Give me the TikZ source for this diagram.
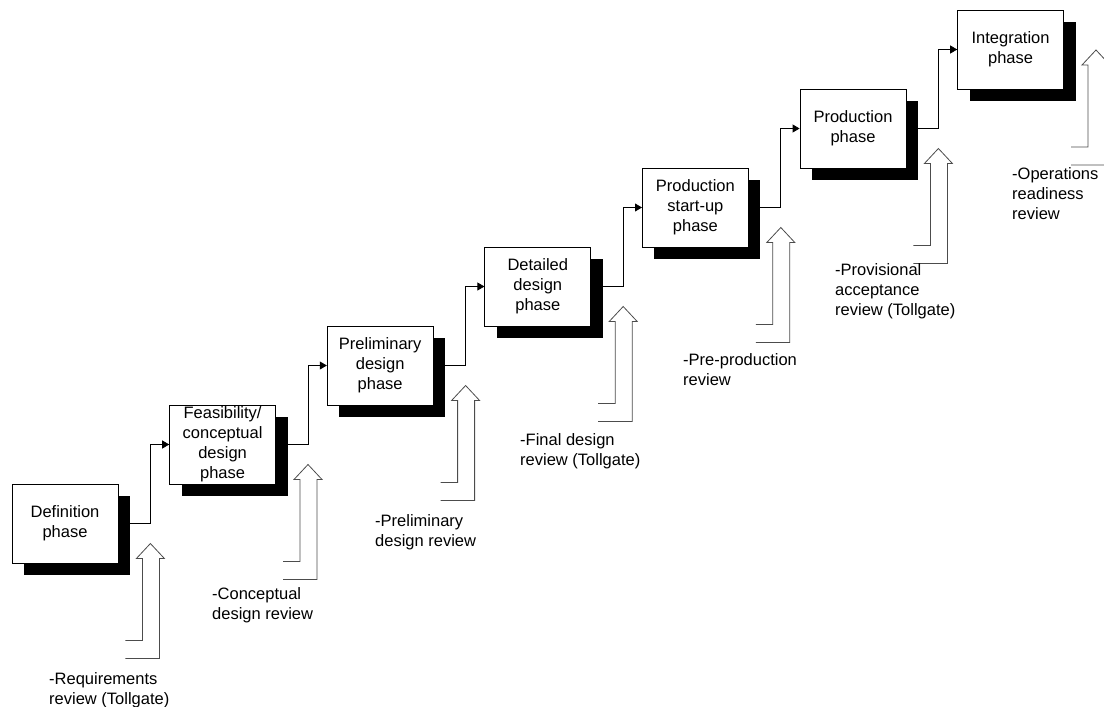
\documentclass[tikz,border=0pt]{standalone}
\usepackage{fontspec}
\setmainfont{Liberation Sans}
\usetikzlibrary{arrows.meta, calc, shadows}

\begin{document}
\begin{tikzpicture}[x=1pt, y=-1pt, >={Triangle[length=7pt, width=8pt]},
        phase/.style={rectangle, draw=black, line width=0.8pt, fill=white,
            minimum width=106pt, minimum height=79pt, inner sep=0pt, align=center,
            font=\fontsize{16.5}{20}\selectfont,
            general shadow={fill=black, shadow xshift=12pt, shadow yshift=-12pt}},
        flow/.style={->, line width=0.8pt, black},
        note/.style={anchor=north west, inner sep=0pt, align=left, font=\fontsize{16.5}{20}\selectfont},
        review arrow/.pic={
            \draw [line width=0.8pt, black!70] (-25,97) -- ++(17,0) -- ++(0,-82) -- ++(-6,0)
                -- (0,0) -- (14,15) -- ++(-5,0) -- ++(0,100) -- ++(-34,0);
        }]
        \useasboundingbox (0,0) rectangle (1104,707);

        % phases
        \node (def)   [phase] at (65,523.5)    {Definition\\phase};
        \node (feas)  [phase] at (222.6,444.5) {Feasibility/\\conceptual\\design\\phase};
        \node (prel)  [phase] at (380.2,365.5) {Preliminary\\design\\phase};
        \node (det)   [phase] at (537.8,286.5) {Detailed\\design\\phase};
        \node (start) [phase] at (695.4,207.5) {Production\\start-up\\phase};
        \node (prod)  [phase] at (853,128.5)   {Production\\phase};
        \node (integ) [phase] at (1010.6,49.5) {Integration\\phase};

        \draw [flow] (def.east) -- ++(32,0) |- (feas.west);
        \draw [flow] (feas.east) -- ++(32,0) |- (prel.west);
        \draw [flow] (prel.east) -- ++(32,0) |- (det.west);
        \draw [flow] (det.east) -- ++(32,0) |- (start.west);
        \draw [flow] (start.east) -- ++(32,0) |- (prod.west);
        \draw [flow] (prod.east) -- ++(32,0) |- (integ.west);

        % reviews
        \coordinate (t1) at ($(def.east)+(32,20)$);
        \coordinate (t2) at ($(feas.east)+(32,20)$);
        \coordinate (t3) at ($(prel.east)+(32,20)$);
        \coordinate (t4) at ($(det.east)+(32,20)$);
        \coordinate (t5) at ($(start.east)+(32,20)$);
        \coordinate (t6) at ($(prod.east)+(32,20)$);
        \coordinate (t7) at ($(integ.east)+(32,0.5)$);
        \pic at (t1) {review arrow};
        \pic at (t2) {review arrow};
        \pic at (t3) {review arrow};
        \pic at (t4) {review arrow};
        \pic at (t5) {review arrow};
        \pic at (t6) {review arrow};
        \pic at (t7) {review arrow};

        \node (r1) [note] at (49,672)   {-Requirements\\review (Tollgate)};
        \node (r2) [note] at (212,587)  {-Conceptual\\design review};
        \node (r3) [note] at (375,514)  {-Preliminary\\design review};
        \node (r4) [note] at (520,433)  {-Final design\\review (Tollgate)};
        \node (r5) [note] at (683,353)  {-Pre-production\\review};
        \node (r6) [note] at (835,263)  {-Provisional\\acceptance\\review (Tollgate)};
        \node (r7) [note] at (1012,167) {-Operations\\readiness\\review};
    \end{tikzpicture}
\end{document}
